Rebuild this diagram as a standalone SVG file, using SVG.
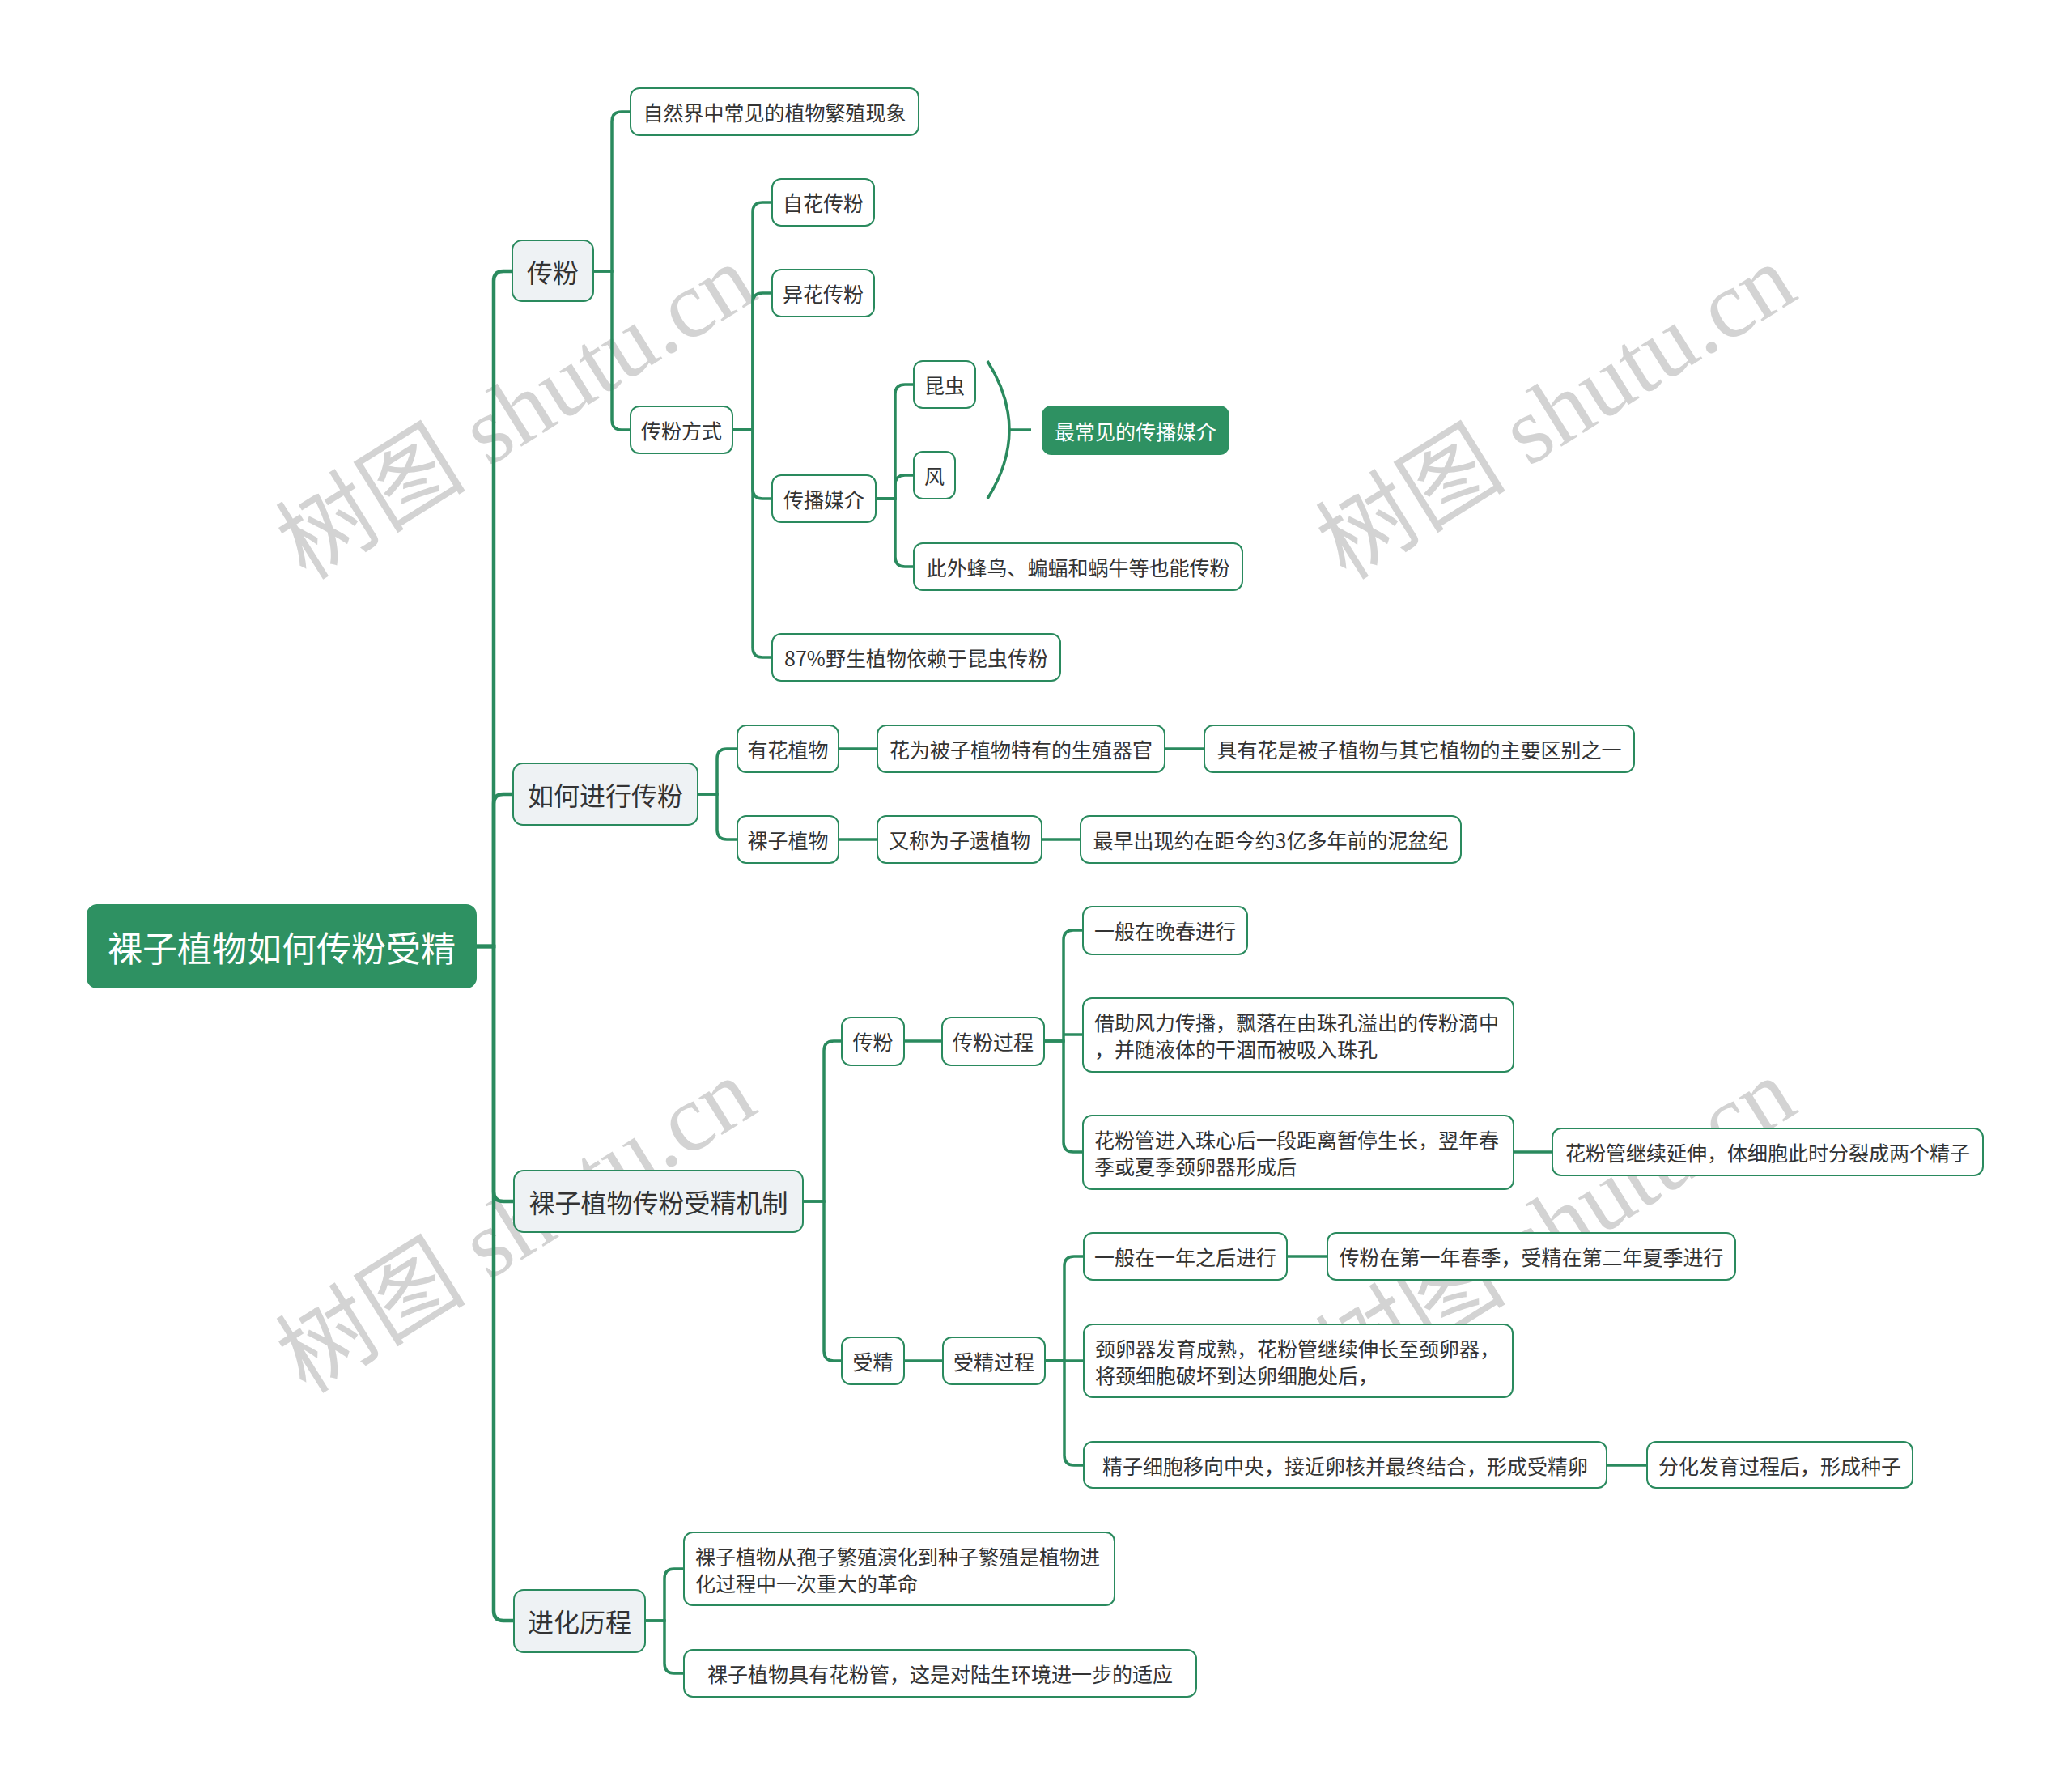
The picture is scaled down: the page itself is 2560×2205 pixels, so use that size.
<svg xmlns="http://www.w3.org/2000/svg" width="2560" height="2205" viewBox="0 0 2560 2205">
<style>
.wm{font-family:"Liberation Serif","Noto Sans CJK SC",serif;font-size:118px;fill:#d3d3d3}
.n rect{fill:#ffffff;stroke:#2a8a5e;stroke-width:2}
.l1 rect{fill:#eef2f4;stroke:#2a8a5e;stroke-width:2}
.hl rect{fill:#2e9162;stroke:#2e9162;stroke-width:2}
text.t{font-family:"Noto Sans CJK SC","Noto Sans",sans-serif;font-size:25px;fill:#333333;dominant-baseline:central}
.m{text-anchor:middle}
.l1 text.t{font-size:32px}
.hl text.t{fill:#ffffff}
.root text.t{font-size:43px;fill:#ffffff}
.c path{fill:none;stroke:#2a8a5e;stroke-width:3.5}
.c path.trunk{stroke-width:4.5}
</style>
<rect width="2560" height="2205" fill="#ffffff"/>
<g id="watermark">
<text class="wm" transform="translate(378,718) rotate(-32)">树图 shutu.cn</text>
<text class="wm" transform="translate(1663,718) rotate(-32)">树图 shutu.cn</text>
<text class="wm" transform="translate(378,1723) rotate(-32)">树图 shutu.cn</text>
<text class="wm" transform="translate(1663,1723) rotate(-32)">树图 shutu.cn</text>
</g>
<g id="connectors" class="c">
<path class="trunk" d="M588 1169 H610 V347 Q610 335 622 335 H633"/>
<path class="trunk" d="M588 1169 H610 V993 Q610 981 622 981 H634"/>
<path class="trunk" d="M588 1169 H610 V1472 Q610 1484 622 1484 H635"/>
<path class="trunk" d="M588 1169 H610 V1990 Q610 2002 622 2002 H635"/>
<path d="M733 335 H756 V150 Q756 138 768 138 H779"/>
<path d="M733 335 H756 V519 Q756 531 768 531 H779"/>
<path d="M905 531 H930 V262 Q930 250 942 250 H954"/>
<path d="M905 531 H930 V374 Q930 362 942 362 H954"/>
<path d="M905 531 H930 V604 Q930 616 942 616 H954"/>
<path d="M905 531 H930 V800 Q930 812 942 812 H954"/>
<path d="M1082 616 H1106 V487 Q1106 475 1118 475 H1129"/>
<path d="M1082 616 H1106 V599 Q1106 587 1118 587 H1129"/>
<path d="M1082 616 H1106 V688 Q1106 700 1118 700 H1129"/>
<path d="M1220 446 Q1274 531 1220 616"/>
<path d="M1247 531 H1274"/>
<path d="M862 981 H886 V937 Q886 925 898 925 H911"/>
<path d="M862 981 H886 V1025 Q886 1037 898 1037 H911"/>
<path d="M1036 925 H1084"/>
<path d="M1439 925 H1488"/>
<path d="M1036 1037 H1084"/>
<path d="M1287 1037 H1335"/>
<path d="M992 1484 H1018 V1298 Q1018 1286 1030 1286 H1040"/>
<path d="M992 1484 H1018 V1669 Q1018 1681 1030 1681 H1040"/>
<path d="M1117 1286 H1164"/>
<path d="M1290 1286 H1314 V1161 Q1314 1149 1326 1149 H1338"/>
<path d="M1314 1278 H1338"/>
<path d="M1290 1286 H1314 V1411 Q1314 1423 1326 1423 H1338"/>
<path d="M1870 1423 H1918"/>
<path d="M1117 1681 H1165"/>
<path d="M1291 1681 H1315 V1564 Q1315 1552 1327 1552 H1339"/>
<path d="M1291 1681 H1339"/>
<path d="M1291 1681 H1315 V1798 Q1315 1810 1327 1810 H1339"/>
<path d="M1590 1552 H1640"/>
<path d="M1985 1810 H2035"/>
<path d="M797 2002 H821 V1950 Q821 1938 833 1938 H845"/>
<path d="M797 2002 H821 V2055 Q821 2067 833 2067 H845"/>
</g>
<g id="root" class="root hl"><rect x="108" y="1118" width="480" height="102" rx="12"/><text class="t m" x="348" y="1169">裸子植物如何传粉受精</text></g>
<g id="n-cf" class="l1"><rect x="633" y="297" width="100" height="75" rx="12"/><text class="t m" x="683" y="335">传粉</text></g>
<g id="n-rhjxcf" class="l1"><rect x="634" y="943" width="228" height="76" rx="12"/><text class="t m" x="748" y="981">如何进行传粉</text></g>
<g id="n-jz" class="l1"><rect x="635" y="1446" width="357" height="76" rx="12"/><text class="t m" x="813.5" y="1484">裸子植物传粉受精机制</text></g>
<g id="n-jh" class="l1"><rect x="635" y="1964" width="162" height="77" rx="12"/><text class="t m" x="716" y="2002">进化历程</text></g>
<g id="n-zrj" class="n"><rect x="779" y="109" width="356" height="58" rx="11"/><text class="t m" x="957" y="138">自然界中常见的植物繁殖现象</text></g>
<g id="n-cffs" class="n"><rect x="779" y="502" width="126" height="58" rx="11"/><text class="t m" x="842" y="531">传粉方式</text></g>
<g id="n-zhcf" class="n"><rect x="954" y="221" width="126" height="58" rx="11"/><text class="t m" x="1017" y="250">自花传粉</text></g>
<g id="n-yhcf" class="n"><rect x="954" y="333" width="126" height="58" rx="11"/><text class="t m" x="1017" y="362">异花传粉</text></g>
<g id="n-cbmj" class="n"><rect x="954" y="587" width="128" height="58" rx="11"/><text class="t m" x="1018" y="616">传播媒介</text></g>
<g id="n-87" class="n"><rect x="954" y="783" width="356" height="58" rx="11"/><text class="t m" x="1132" y="812">87%野生植物依赖于昆虫传粉</text></g>
<g id="n-kc" class="n"><rect x="1129" y="446" width="76" height="58" rx="11"/><text class="t m" x="1167" y="475">昆虫</text></g>
<g id="n-f" class="n"><rect x="1129" y="558" width="51" height="58" rx="11"/><text class="t m" x="1154.5" y="587">风</text></g>
<g id="n-cw" class="n"><rect x="1129" y="671" width="406" height="58" rx="11"/><text class="t m" x="1332" y="700">此外蜂鸟、蝙蝠和蜗牛等也能传粉</text></g>
<g id="n-zcj" class="hl"><rect x="1288" y="502" width="230" height="59" rx="11"/><text class="t m" x="1403" y="531.5">最常见的传播媒介</text></g>
<g id="n-yhzw" class="n"><rect x="911" y="896" width="125" height="58" rx="11"/><text class="t m" x="973.5" y="925">有花植物</text></g>
<g id="n-lzzw" class="n"><rect x="911" y="1008" width="125" height="58" rx="11"/><text class="t m" x="973.5" y="1037">裸子植物</text></g>
<g id="n-hw" class="n"><rect x="1084" y="896" width="355" height="58" rx="11"/><text class="t m" x="1261.5" y="925">花为被子植物特有的生殖器官</text></g>
<g id="n-jyh" class="n"><rect x="1488" y="896" width="531" height="58" rx="11"/><text class="t m" x="1753.5" y="925">具有花是被子植物与其它植物的主要区别之一</text></g>
<g id="n-ycw" class="n"><rect x="1084" y="1008" width="203" height="58" rx="11"/><text class="t m" x="1185.5" y="1037">又称为子遗植物</text></g>
<g id="n-zzcx" class="n"><rect x="1335" y="1008" width="470" height="58" rx="11"/><text class="t m" x="1570" y="1037">最早出现约在距今约3亿多年前的泥盆纪</text></g>
<g id="n-cf2" class="n"><rect x="1040" y="1257" width="77" height="59" rx="11"/><text class="t m" x="1078.5" y="1286">传粉</text></g>
<g id="n-cfgc" class="n"><rect x="1164" y="1257" width="126" height="59" rx="11"/><text class="t m" x="1227" y="1286">传粉过程</text></g>
<g id="n-wc" class="n"><rect x="1338" y="1120" width="203" height="59" rx="11"/><text class="t m" x="1439.5" y="1149">一般在晚春进行</text></g>
<g id="n-jz2" class="n"><rect x="1338" y="1233" width="532" height="91" rx="11"/><text class="t" x="1352" y="1262">借助风力传播，飘落在由珠孔溢出的传粉滴中</text><text class="t" x="1352" y="1295">，并随液体的干涸而被吸入珠孔</text></g>
<g id="n-hfg" class="n"><rect x="1338" y="1378" width="532" height="91" rx="11"/><text class="t" x="1352" y="1407">花粉管进入珠心后一段距离暂停生长，翌年春</text><text class="t" x="1352" y="1440">季或夏季颈卵器形成后</text></g>
<g id="n-hfgjx" class="n"><rect x="1918" y="1394" width="532" height="58" rx="11"/><text class="t m" x="2184" y="1423">花粉管继续延伸，体细胞此时分裂成两个精子</text></g>
<g id="n-sj" class="n"><rect x="1040" y="1652" width="77" height="58" rx="11"/><text class="t m" x="1078.5" y="1681">受精</text></g>
<g id="n-sjgc" class="n"><rect x="1165" y="1652" width="126" height="58" rx="11"/><text class="t m" x="1228" y="1681">受精过程</text></g>
<g id="n-ynzh" class="n"><rect x="1339" y="1523" width="251" height="58" rx="11"/><text class="t m" x="1464.5" y="1552">一般在一年之后进行</text></g>
<g id="n-cfzd" class="n"><rect x="1640" y="1523" width="504" height="58" rx="11"/><text class="t m" x="1892" y="1552">传粉在第一年春季，受精在第二年夏季进行</text></g>
<g id="n-jlq" class="n"><rect x="1339" y="1636" width="530" height="90" rx="11"/><text class="t" x="1353" y="1665">颈卵器发育成熟，花粉管继续伸长至颈卵器，</text><text class="t" x="1353" y="1698">将颈细胞破坏到达卵细胞处后，</text></g>
<g id="n-jzxb" class="n"><rect x="1339" y="1781" width="646" height="57" rx="11"/><text class="t m" x="1662" y="1810">精子细胞移向中央，接近卵核并最终结合，形成受精卵</text></g>
<g id="n-fh" class="n"><rect x="2035" y="1781" width="328" height="57" rx="11"/><text class="t m" x="2199" y="1810">分化发育过程后，形成种子</text></g>
<g id="n-bz" class="n"><rect x="845" y="1893" width="532" height="90" rx="11"/><text class="t" x="859" y="1922">裸子植物从孢子繁殖演化到种子繁殖是植物进</text><text class="t" x="859" y="1955">化过程中一次重大的革命</text></g>
<g id="n-hfgsy" class="n"><rect x="845" y="2038" width="633" height="58" rx="11"/><text class="t m" x="1161.5" y="2067">裸子植物具有花粉管，这是对陆生环境进一步的适应</text></g>
</svg>
